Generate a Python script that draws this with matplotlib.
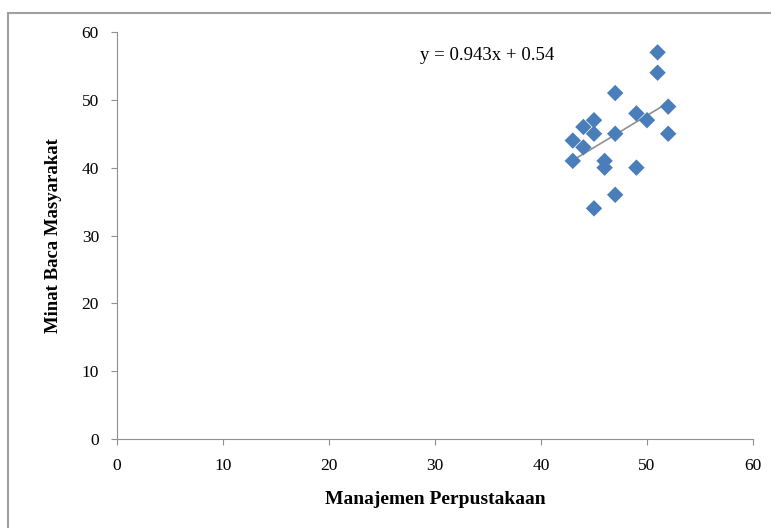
import matplotlib
matplotlib.use("Agg")
import matplotlib.pyplot as plt
from matplotlib.patches import Rectangle
import numpy as np

plt.rcParams['font.family'] = ['Liberation Serif', 'DejaVu Serif']

manajemen = [51, 51, 47, 52, 49, 50, 45, 44, 45, 47, 52, 43, 44, 43, 46, 46, 49, 47, 45]
minat = [57, 54, 51, 49, 48, 47, 47, 46, 45, 45, 45, 44, 43, 41, 41, 40, 40, 36, 34]
slope, intercept = 0.943, 0.54
ticks = [0, 10, 20, 30, 40, 50, 60]

fig = plt.figure(figsize=(7.71, 5.28), dpi=100)
fig.patches.append(Rectangle((8/771, -0.1), 1.2, 1.1 - 13/528, transform=fig.transFigure,
                             fill=False, edgecolor='#a0a0a0', linewidth=1.5))
ax = fig.add_axes([117/771, 1 - 439/528, 636/771, 407/528])

x = np.array(manajemen)
xl = np.array([x.min(), x.max()])
ax.plot(xl, slope * xl + intercept, color='#909090', linewidth=1.2, zorder=2)
ax.scatter(manajemen, minat, marker='D', s=70, color='#4a7ebb', edgecolors='none', zorder=3)

ax.set_xlim(0, 60)
ax.set_ylim(0, 60)
ax.set_xticks(ticks)
ax.set_yticks(ticks)
for s in ['top', 'right']:
    ax.spines[s].set_visible(False)
for s in ['left', 'bottom']:
    ax.spines[s].set_color('#909090')
ax.tick_params(direction='out', length=4, color='#909090', labelsize=12.5)
ax.tick_params(axis='x', pad=10)
ax.tick_params(axis='y', pad=9)
ax.set_xlabel('Manajemen Perpustakaan', fontsize=14, fontweight='bold', labelpad=12)
ax.set_ylabel('Minat Baca Masyarakat', fontsize=13.5, fontweight='bold', labelpad=14)
ax.text(34.9, 56.6, 'y = 0.943x + 0.54', fontsize=13.5, ha='center', va='center')

fig.savefig('out.png', dpi=100)
